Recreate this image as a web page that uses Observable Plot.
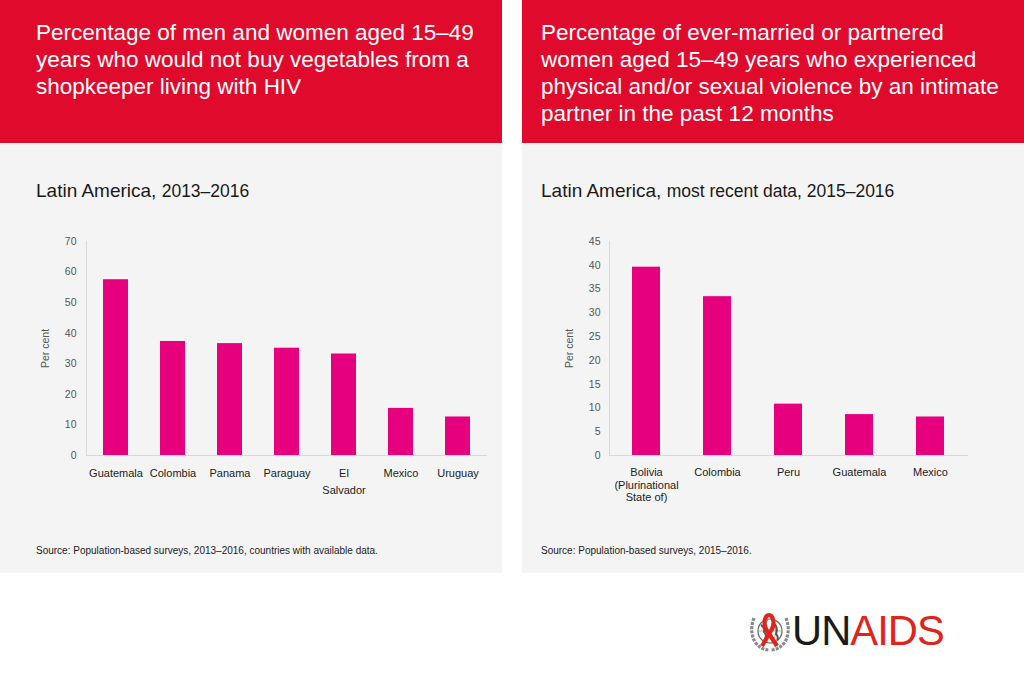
<!DOCTYPE html>
<html>
<head>
<meta charset="utf-8">
<script src="https://cdn.jsdelivr.net/npm/d3@7"></script>
<script src="https://cdn.jsdelivr.net/npm/@observablehq/plot@0.6"></script>
<style>
  html, body { margin: 0; padding: 0; background: #ffffff; }
  body { width: 1024px; height: 683px; position: relative; overflow: hidden; font-family: "Liberation Sans", Arial, sans-serif; }
  .panel { position: absolute; top: 0; width: 502px; height: 573px; background: #f4f4f4; }
  .header { position: absolute; left: 0; top: 0; width: 100%; height: 143px; background: #df0a2c; }
  .title { position: absolute; left: 36px; top: 19px; right: 14px; color: #ffffff; font-size: 22.5px; line-height: 27px; }
  .subtitle { position: absolute; left: 36px; top: 180px; color: #1a1a1a; font-size: 19px; line-height: 22px; white-space: nowrap; }
  .subtitle .small { font-size: 17.5px; }
  .chart { position: absolute; top: 225px; left: 0; }
  .source { position: absolute; left: 36px; top: 545px; font-size: 10px; line-height: 12px; color: #222; white-space: nowrap; }
  .logo { position: absolute; left: 748px; top: 610px; }
  .logotext { position: absolute; left: 792px; top: 608px; font-size: 43px; line-height: 44px; font-family: "Liberation Sans", Arial, sans-serif; letter-spacing: -1px; white-space: nowrap; transform: scaleX(0.97); transform-origin: left center; }
</style>
</head>
<body>
<div class="panel" style="left:0">
  <div class="header"><div class="title">Percentage of men and women aged 15–49 years who would not buy vegetables from a shopkeeper living with HIV</div></div>
  <div class="subtitle">Latin America, <span class="small">2013–2016</span></div>
  <div class="chart" id="left"></div>
  <div class="source">Source: Population-based surveys, 2013–2016, countries with available data.</div>
</div>
<div class="panel" style="left:522px">
  <div class="header"><div class="title" style="left:19px">Percentage of ever-married or partnered women aged 15–49 years who experienced physical and/or sexual violence by an intimate partner in the past 12 months</div></div>
  <div class="subtitle" style="left:19px">Latin America, <span class="small">most recent data, 2015–2016</span></div>
  <div class="chart" id="right"></div>
  <div class="source" style="left:19px">Source: Population-based surveys, 2015–2016.</div>
</div>
<svg class="logo" width="44" height="42" viewBox="0 0 44 42">
  <path d="M6 8 Q1 21 7 32 Q13 40 21 40" fill="none" stroke="#888" stroke-width="3.2" stroke-dasharray="3 1.2"/>
  <path d="M38 8 Q43 21 37 32 Q31 40 23 40" fill="none" stroke="#888" stroke-width="3.2" stroke-dasharray="3 1.2"/>
  <circle cx="22" cy="21" r="12" fill="#ffffff" stroke="#666" stroke-width="1.2"/>
  <ellipse cx="22" cy="21" rx="5.5" ry="12" fill="none" stroke="#999" stroke-width="0.8"/>
  <line x1="10" y1="21" x2="34" y2="21" stroke="#999" stroke-width="0.8"/>
  <path d="M13 15 Q17 17 16 22 Q20 25 17 29 M27 14 Q30 19 28 24 Q31 27 29 30" fill="none" stroke="#555" stroke-width="2"/>
  <path d="M14 36 L24 19 C27 13 25 5 21 5 C17 5 15 13 18 19 L29 36" fill="none" stroke="#e2231a" stroke-width="4.2" stroke-linejoin="round"/>
</svg>
<div class="logotext"><span style="color:#1a1a1a">UN</span><span style="color:#e2231a">AIDS</span></div>
<script>
// ---- Data ----
const leftCountries = ["Guatemala", "Colombia", "Panama", "Paraguay", "El Salvador", "Mexico", "Uruguay"];
const leftValues = [57.5, 37.3, 36.6, 35.1, 33.2, 15.4, 12.6];
const leftTickLabels = ["Guatemala", "Colombia", "Panama", "Paraguay", "El\nSalvador", "Mexico", "Uruguay"];
const leftYTicks = [0, 10, 20, 30, 40, 50, 60, 70];

const rightCountries = ["Bolivia (Plurinational State of)", "Colombia", "Peru", "Guatemala", "Mexico"];
const rightValues = [39.6, 33.4, 10.8, 8.6, 8.1];
const rightTickLabels = ["Bolivia\n(Plurinational\nState of)", "Colombia", "Peru", "Guatemala", "Mexico"];
const rightYTicks = [0, 5, 10, 15, 20, 25, 30, 35, 40, 45];

const barColor = "#e6007e";
const axisLine = "#d9d9d9";

function makeChart(countries, values, tickLabels, yTicks, opts) {
  const data = countries.map((c, i) => ({country: c, value: values[i]}));
  const labelMap = new Map(countries.map((c, i) => [c, tickLabels[i]]));
  return Plot.plot({
    width: opts.width,
    height: 280,
    marginLeft: opts.marginLeft,
    marginRight: opts.marginRight,
    marginTop: 16,
    marginBottom: 50,
    style: {background: "transparent", fontFamily: "'Liberation Sans', Arial, sans-serif", fontSize: "11px", color: "#555"},
    x: {domain: countries, paddingInner: opts.padding, paddingOuter: opts.padding / 2},
    y: {domain: [yTicks[0], yTicks[yTicks.length - 1]]},
    marks: [
      Plot.frame({anchor: "left", stroke: axisLine}),
      Plot.ruleY([0], {stroke: axisLine}),
      Plot.barY(data, {x: "country", y: "value", fill: barColor}),
      Plot.axisX({tickSize: 0, tickPadding: opts.xPad, tickFormat: d => labelMap.get(d), lineHeight: opts.lineHeight, color: "#222", fontSize: 11, label: null}),
      Plot.axisY({ticks: yTicks, tickSize: 0, tickPadding: opts.yPad, color: "#555", fontSize: 10.5, label: "Per cent", labelAnchor: "center", labelOffset: opts.labelOffset, labelArrow: "none"})
    ]
  });
}

document.getElementById("left").appendChild(
  makeChart(leftCountries, leftValues, leftTickLabels, leftYTicks,
    {width: 500, marginLeft: 86, marginRight: 13, padding: 0.56, lineHeight: 1.55, xPad: 9, yPad: 10, labelOffset: 45})
);
document.getElementById("right").appendChild(
  makeChart(rightCountries, rightValues, rightTickLabels, rightYTicks,
    {width: 480, marginLeft: 87, marginRight: 34, padding: 0.6, lineHeight: 1.14, xPad: 12, yPad: 9, labelOffset: 44})
);
</script>
</body>
</html>
